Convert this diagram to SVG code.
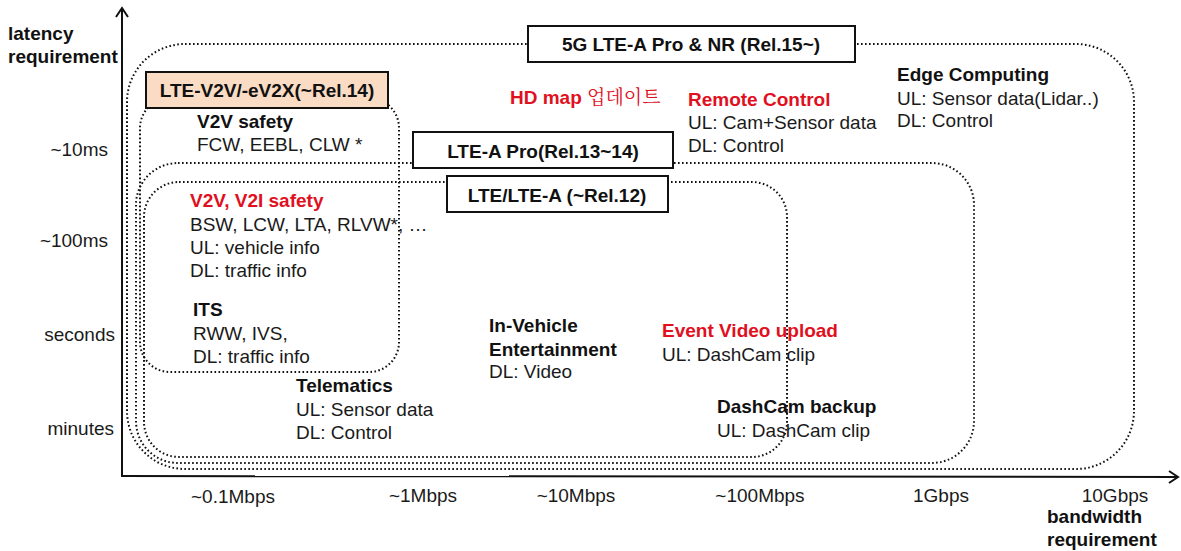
<svg xmlns="http://www.w3.org/2000/svg" width="1181" height="551" viewBox="0 0 1181 551">
<style>
text{font-family:"Liberation Sans",Arial,"Noto Sans CJK KR",sans-serif;font-size:19px;fill:#1a1a1a}
.b{font-weight:bold;fill:#111}
.r{font-weight:bold;fill:#E0101E}
.dot{fill:none;stroke:#111;stroke-width:2;stroke-dasharray:1.6 2.4}
.lbl{fill:#fff;stroke:#111;stroke-width:2}
.ax{fill:none;stroke:#111;stroke-width:2}
.m{text-anchor:middle}
.e{text-anchor:end}
</style>
<defs>
<marker id="arr" markerWidth="12" markerHeight="14" refX="10" refY="7" orient="auto" markerUnits="userSpaceOnUse">
<path d="M1,1 L10,7 L1,13" fill="none" stroke="#111" stroke-width="2"/>
</marker>
</defs>
<g id="axes">
<line class="ax" x1="122" y1="476" x2="122" y2="8" marker-end="url(#arr)"/>
<line class="ax" x1="121" y1="476" x2="1178" y2="477" marker-end="url(#arr)"/>
<text class="b" x="8" y="40">latency</text>
<text class="b" x="8" y="63">requirement</text>
<text class="e" x="108" y="156">~10ms</text>
<text class="e" x="108" y="247">~100ms</text>
<text class="e" x="115" y="341">seconds</text>
<text class="e" x="114" y="435">minutes</text>
<text class="m" x="233" y="503">~0.1Mbps</text>
<text class="m" x="423" y="502">~1Mbps</text>
<text class="m" x="576" y="502">~10Mbps</text>
<text class="m" x="760" y="502">~100Mbps</text>
<text class="m" x="941" y="502">1Gbps</text>
<text class="m" x="1115" y="502">10Gbps</text>
<text class="b" x="1047" y="523">bandwidth</text>
<text class="b" x="1047" y="546">requirement</text>
</g>
<g id="connectors">
<rect id="r5g" class="dot" x="127" y="44" width="1007" height="425" rx="58"/>
<rect id="rpro" class="dot" x="136" y="163" width="838" height="300" rx="42"/>
<rect id="rlte" class="dot" x="144" y="182" width="643" height="275" rx="35"/>
<rect id="rv2v" class="dot" x="140" y="98" width="259" height="274" rx="30"/>
</g>
<g id="n5g">
<rect class="lbl" x="528" y="26" width="327" height="36"/>
<text class="b m" x="691" y="51">5G LTE-A Pro &amp; NR (Rel.15~)</text>
</g>
<g id="nv2x">
<rect class="lbl" x="146" y="72" width="242" height="36" style="fill:#FADBC3"/>
<text class="b m" x="267" y="97">LTE-V2V/-eV2X(~Rel.14)</text>
</g>
<g id="npro">
<rect class="lbl" x="413" y="132" width="260" height="36"/>
<text class="b m" x="543" y="158">LTE-A Pro(Rel.13~14)</text>
</g>
<g id="nlte">
<rect class="lbl" x="447" y="176" width="221" height="36"/>
<text class="b m" x="557" y="202">LTE/LTE-A (~Rel.12)</text>
</g>
<g id="v2vsafety">
<text class="b" x="197" y="128">V2V safety</text>
<text x="197" y="151">FCW, EEBL, CLW *</text>
</g>
<g id="hdmap">
<text class="r" x="510" y="104">HD map <tspan style="font-weight:normal;font-family:'Noto Serif CJK KR','Noto Sans CJK KR',serif">업데이트</tspan></text>
</g>
<g id="remote">
<text class="r" x="688" y="106">Remote Control</text>
<text x="688" y="129">UL: Cam+Sensor data</text>
<text x="688" y="152">DL: Control</text>
</g>
<g id="edge">
<text class="b" x="897" y="81">Edge Computing</text>
<text x="897" y="105">UL: Sensor data(Lidar..)</text>
<text x="897" y="127">DL: Control</text>
</g>
<g id="v2isafety">
<text class="r" x="190" y="207">V2V, V2I safety</text>
<text x="190" y="231">BSW, LCW, LTA, RLVW*, …</text>
<text x="190" y="254">UL: vehicle info</text>
<text x="190" y="277">DL: traffic info</text>
</g>
<g id="its">
<text class="b" x="193" y="316">ITS</text>
<text x="193" y="340">RWW, IVS,</text>
<text x="193" y="363">DL: traffic info</text>
</g>
<g id="telematics">
<text class="b" x="296" y="392">Telematics</text>
<text x="296" y="416">UL: Sensor data</text>
<text x="296" y="439">DL: Control</text>
</g>
<g id="ive">
<text class="b" x="489" y="332">In-Vehicle</text>
<text class="b" x="489" y="356">Entertainment</text>
<text x="489" y="378">DL: Video</text>
</g>
<g id="event">
<text class="r" x="662" y="337">Event Video upload</text>
<text x="662" y="361">UL: DashCam clip</text>
</g>
<g id="dashcam">
<text class="b" x="717" y="413">DashCam backup</text>
<text x="717" y="437">UL: DashCam clip</text>
</g>
</svg>
